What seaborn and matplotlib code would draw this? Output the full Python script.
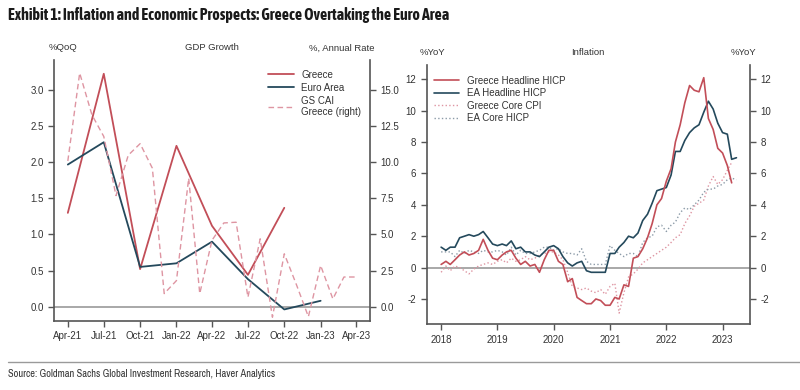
import numpy as np
import pandas as pd
import seaborn as sns
import matplotlib.pyplot as plt
import matplotlib.dates as mdates
from matplotlib import font_manager
from matplotlib.lines import Line2D
from matplotlib.ticker import FixedLocator, FormatStrFormatter

# ---- GDP growth panel data ----
gdp_start = '2021-04-01'
greece_gdp = [1.30, 3.23, 0.52, 2.23, 1.12, 0.44, 1.37]            # %QoQ
ea_gdp = [1.97, 2.28, 0.55, 0.60, 0.90, 0.38, -0.04, 0.08]         # %QoQ
gs_cai_greece = [10.1, 16.2, 13.3, 11.8, 7.7, 10.5, 11.3, 9.6, 0.9,  # % annual rate, monthly
                 1.8, 8.9, 0.9, 4.6, 5.8, 5.85, 0.65, 4.7, -0.74,
                 3.66, 1.5, -0.7, 2.85, 0.53, 2.05, 2.05]

# ---- Inflation panel data (monthly from Jan 2018) ----
infl_start = '2018-01-01'
greece_headline = [0.2, 0.4, 0.2, 0.5, 0.8, 1.0, 0.8, 0.9, 1.1, 1.8, 1.1, 0.6,
                   0.5, 0.8, 1.0, 1.1, 0.6, 0.2, 0.4, 0.1, 0.2, -0.3, 0.5, 1.1,
                   1.1, 0.4, 0.2, -0.9, -0.7, -1.9, -2.1, -2.3, -2.3, -2.0, -2.1, -2.4,
                   -2.4, -1.9, -2.0, -1.1, -1.2, 0.6, 0.7, 1.2, 1.9, 2.8, 4.0, 4.4,
                   5.5, 6.3, 8.0, 9.1, 10.5, 11.6, 11.3, 11.2, 12.1, 9.5, 8.8, 7.6,
                   7.3, 6.5, 5.4]
ea_headline = [1.3, 1.1, 1.3, 1.3, 1.9, 2.0, 2.1, 2.0, 2.1, 2.3, 1.9, 1.5,
               1.4, 1.5, 1.4, 1.7, 1.2, 1.3, 1.0, 1.0, 0.8, 0.7, 1.0, 1.3,
               1.4, 1.2, 0.7, 0.3, 0.1, 0.3, 0.4, -0.2, -0.3, -0.3, -0.3, -0.3,
               0.9, 0.9, 1.3, 1.6, 2.0, 1.9, 2.2, 3.0, 3.4, 4.1, 4.9, 5.0,
               5.1, 5.9, 7.4, 7.4, 8.1, 8.6, 8.9, 9.1, 9.9, 10.6, 10.1, 9.2,
               8.6, 8.5, 6.9, 7.0]
greece_core = [-0.3, 0.1, -0.2, 0.1, 0.0, -0.2, -0.4, -0.1, 0.1, 0.2, 0.3, 0.2,
               0.4, 0.5, 0.3, 0.6, 0.4, 0.5, 0.7, 0.5, 0.6, 0.8, 0.9, 1.0,
               1.0, 0.8, 0.5, -0.3, -1.2, -1.3, -1.4, -1.3, -1.5, -1.6, -1.4, -1.7,
               -1.2, -1.0, -2.9, -1.6, -0.6, -0.4, -0.1, 0.3, 0.5, 0.7, 0.9, 1.1,
               1.3, 1.6, 1.9, 2.1, 2.8, 3.3, 3.9, 4.1, 4.3, 5.2, 5.8, 5.3,
               5.6, 6.2, 6.7]
ea_core = [1.0, 1.0, 1.0, 0.7, 1.1, 0.9, 1.1, 1.0, 0.9, 1.1, 1.0, 1.0,
           1.1, 1.0, 0.8, 1.3, 0.8, 1.1, 0.9, 0.9, 1.0, 1.1, 1.3, 1.3,
           1.1, 1.2, 1.0, 0.9, 0.9, 0.8, 1.2, 0.4, 0.2, 0.2, 0.2, 0.2,
           1.4, 1.1, 0.9, 0.7, 0.9, 0.9, 0.7, 1.6, 1.9, 2.0, 2.6, 2.7,
           2.3, 2.7, 2.9, 3.5, 3.8, 3.7, 4.0, 4.3, 4.8, 5.0, 5.0, 5.2,
           5.3, 5.6, 5.7, 5.6]

RED = '#C24E58'
NAVY = '#24495C'
PINK = '#DE95A2'
GREYBLUE = '#8C9BA8'
SPINE = '#555555'
TXT = '#333333'

sns.set_style('ticks')
plt.rcParams['font.family'] = ['Liberation Sans', 'DejaVu Sans']
plt.rcParams['axes.unicode_minus'] = False


# pick narrow faces for title / source if installed
def weight_num(w):
    return w if isinstance(w, int) else font_manager.weight_dict.get(w, 400)


def is_narrow(f):
    return 'Narrow' in f.name or 'Condensed' in f.name


ttf = font_manager.fontManager.ttflist
narrow_any = sorted({f.name for f in ttf if is_narrow(f)})
narrow_bold = sorted({f.name for f in ttf if is_narrow(f) and weight_num(f.weight) >= 600})
if 'Liberation Sans Narrow' in narrow_bold:
    narrow_bold = ['Liberation Sans Narrow']
if 'Liberation Sans Narrow' in narrow_any:
    narrow_any = ['Liberation Sans Narrow']

if narrow_bold:
    title_font, title_size = [narrow_bold[0], 'Liberation Sans'], 11.4
else:
    title_font, title_size = ['Liberation Sans'], 9.0
if narrow_any:
    source_font, source_size = [narrow_any[0], 'Liberation Sans'], 7.5
else:
    source_font, source_size = ['Liberation Sans'], 6.3


def frame(values, start, freq):
    return pd.DataFrame({'date': pd.date_range(start, periods=len(values), freq=freq),
                         'value': values})


def style_axes(ax, ax2):
    for a in (ax, ax2):
        for s in a.spines.values():
            s.set_color(SPINE)
            s.set_linewidth(1.2)
        a.tick_params(direction='out', length=4, width=1, color=SPINE,
                      labelsize=7, labelcolor=TXT)
        a.set_xlabel('')
        a.set_ylabel('')
    ax.spines['top'].set_visible(False)
    ax.spines['right'].set_visible(False)
    ax2.spines['top'].set_visible(False)
    ax2.spines['left'].set_visible(False)
    ax2.spines['bottom'].set_visible(False)


fig = plt.figure(figsize=(8, 3.9), dpi=100)

# ---------------- GDP growth ----------------
ax = fig.add_axes([0.0675, 0.177, 0.395, 0.669])
ax2 = ax.twinx()
sns.lineplot(data=frame(greece_gdp, gdp_start, '3MS'), x='date', y='value', ax=ax,
             color=RED, lw=1.3, label='Greece')
sns.lineplot(data=frame(ea_gdp, gdp_start, '3MS'), x='date', y='value', ax=ax,
             color=NAVY, lw=1.3, label='Euro Area')
sns.lineplot(data=frame(gs_cai_greece, gdp_start, 'MS'), x='date', y='value', ax=ax2,
             color=PINK, lw=1.0, dashes=(4, 2.5), label='GS CAI\nGreece (right)')
ax.axhline(0, color='#9A9A9A', lw=1.2, zorder=0)
ax.set_ylim(-0.2, 3.42)
ax2.set_ylim(-1.0, 17.1)
ax.yaxis.set_major_locator(FixedLocator(np.arange(0, 3.01, 0.5)))
ax.yaxis.set_major_formatter(FormatStrFormatter('%.1f'))
ax2.yaxis.set_major_locator(FixedLocator(np.arange(0, 15.01, 2.5)))
ax2.yaxis.set_major_formatter(FormatStrFormatter('%.1f'))
ax.set_xlim(pd.Timestamp('2021-02-25'), pd.Timestamp('2023-05-06'))
ax.xaxis.set_major_locator(mdates.MonthLocator(bymonth=[1, 4, 7, 10]))
ax.xaxis.set_major_formatter(mdates.DateFormatter('%b-%y'))
style_axes(ax, ax2)
h1, l1 = ax.get_legend_handles_labels()
h2, l2 = ax2.get_legend_handles_labels()
ax.get_legend().remove()
ax2.legend(h1 + h2, l1 + l2, loc='upper left', bbox_to_anchor=(0.66, 0.985),
           frameon=False, fontsize=7, handlelength=2.6, labelspacing=0.3,
           borderaxespad=0.2, labelcolor=TXT)
fig.text(0.079, 0.877, '%QoQ', fontsize=6.8, color=TXT, ha='center', va='center')
fig.text(0.265, 0.877, 'GDP Growth', fontsize=6.8, color=TXT, ha='center', va='center')
fig.text(0.427, 0.877, '%, Annual Rate', fontsize=6.8, color=TXT, ha='center', va='center')

# ---------------- Inflation ----------------
bx = fig.add_axes([0.5335, 0.169, 0.404, 0.664])
bx2 = bx.twinx()
sns.lineplot(data=frame(greece_headline, infl_start, 'MS'), x='date', y='value', ax=bx,
             color=RED, lw=1.2, label='Greece Headline HICP', zorder=4)
sns.lineplot(data=frame(ea_headline, infl_start, 'MS'), x='date', y='value', ax=bx,
             color=NAVY, lw=1.2, label='EA Headline HICP', zorder=3)
sns.lineplot(data=frame(greece_core, infl_start, 'MS'), x='date', y='value', ax=bx,
             color=PINK, lw=1.0, ls=':', label='Greece Core CPI')
sns.lineplot(data=frame(ea_core, infl_start, 'MS'), x='date', y='value', ax=bx,
             color=GREYBLUE, lw=1.0, ls=':', label='EA Core HICP')
bx.axhline(0, color='#9A9A9A', lw=1.2, zorder=0)
for a in (bx, bx2):
    a.set_ylim(-3.6, 12.9)
    a.yaxis.set_major_locator(FixedLocator(np.arange(-2, 12.1, 2)))
    a.yaxis.set_major_formatter(FormatStrFormatter('%d'))
bx.set_xlim(pd.Timestamp('2017-09-30'), pd.Timestamp('2023-06-28'))
bx.xaxis.set_major_locator(mdates.YearLocator())
bx.xaxis.set_major_formatter(mdates.DateFormatter('%Y'))
style_axes(bx, bx2)
bx.legend(loc='upper left', bbox_to_anchor=(0.0, 0.985), frameon=False, fontsize=7,
          handlelength=2.6, labelspacing=0.25, borderaxespad=0.3, labelcolor=TXT)
fig.text(0.541, 0.865, '%YoY', fontsize=6.8, color=TXT, ha='center', va='center')
fig.text(0.735, 0.865, 'Inflation', fontsize=6.8, color=TXT, ha='center', va='center')
fig.text(0.929, 0.865, '%YoY', fontsize=6.8, color=TXT, ha='center', va='center')

# ---------------- title and source ----------------
fig.text(0.01, 0.962, 'Exhibit 1: Inflation and Economic Prospects: Greece Overtaking the Euro Area',
         fontsize=title_size, fontweight='bold', color='#1A1A1A', ha='left', va='center',
         family=title_font)
fig.add_artist(Line2D([0.01, 1.0], [0.072, 0.072], color='#9A9A9A', lw=1.0))
fig.text(0.01, 0.04, 'Source: Goldman Sachs Global Investment Research, Haver Analytics',
         fontsize=source_size, color=TXT, ha='left', va='center', family=source_font)

fig.savefig('out.png', dpi=100)
